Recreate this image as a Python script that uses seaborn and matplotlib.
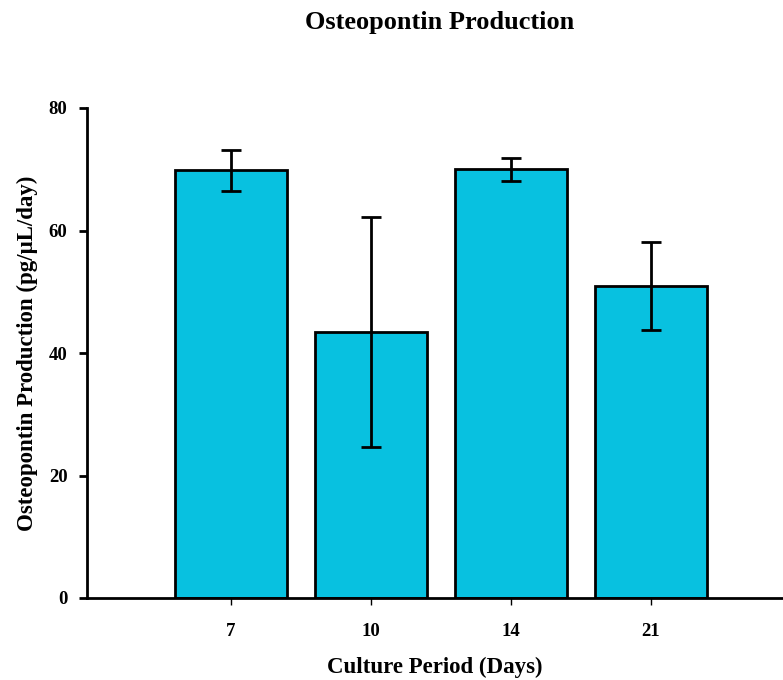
import matplotlib
matplotlib.use("Agg")
import matplotlib.pyplot as plt
import seaborn as sns
import pandas as pd

days = ["7", "10", "14", "21"]
production = [69.8, 43.4, 70.0, 50.9]
errors = [3.35, 18.8, 1.9, 7.2]

sns.set_style("white")
plt.rcParams['font.family'] = ['Liberation Serif', 'DejaVu Serif']
plt.rcParams['font.weight'] = 'bold'
plt.rcParams['text.color'] = 'black'
plt.rcParams['axes.labelcolor'] = 'black'
plt.rcParams['xtick.color'] = 'black'
plt.rcParams['ytick.color'] = 'black'

df = pd.DataFrame({"day": days, "prod": production, "err": errors})

fig = plt.figure(figsize=(7.83, 6.80), dpi=100)
ax = fig.add_axes([87/783, 1-598/680, 696/783, 490/680])

sns.barplot(data=df, x="day", y="prod", color="#08C1E0", saturation=1,
            edgecolor="black", linewidth=2, width=0.8, errorbar=None, ax=ax)
ax.errorbar(range(len(days)), production, yerr=errors, fmt="none",
            ecolor="black", elinewidth=2, capsize=7, capthick=2)

ax.set_xlim(-1.029, 3.943)
ax.set_ylim(0, 80)
ax.set_yticks([0, 20, 40, 60, 80])
for s in ["top", "right"]:
    ax.spines[s].set_visible(False)
for s in ["left", "bottom"]:
    ax.spines[s].set_linewidth(2)
    ax.spines[s].set_color("black")
ax.tick_params(axis="y", direction="out", length=6, width=2, left=True, labelsize=13.5, pad=8)
ax.tick_params(axis="x", direction="out", length=5, width=1, bottom=True, labelsize=13.5, pad=13)
for lab in ax.get_xticklabels() + ax.get_yticklabels():
    lab.set_fontweight("bold")

ax.set_xlabel("Culture Period (Days)", fontsize=16.5, fontweight="bold", labelpad=12)
ax.set_ylabel("Osteopontin Production (pg/μL/day)", fontsize=16.5, fontweight="bold", labelpad=8)
fig.text(440/783, 1-23/680, "Osteopontin Production", ha="center", va="center",
         fontsize=19, fontweight="bold")

fig.savefig("out.png", dpi=100)
